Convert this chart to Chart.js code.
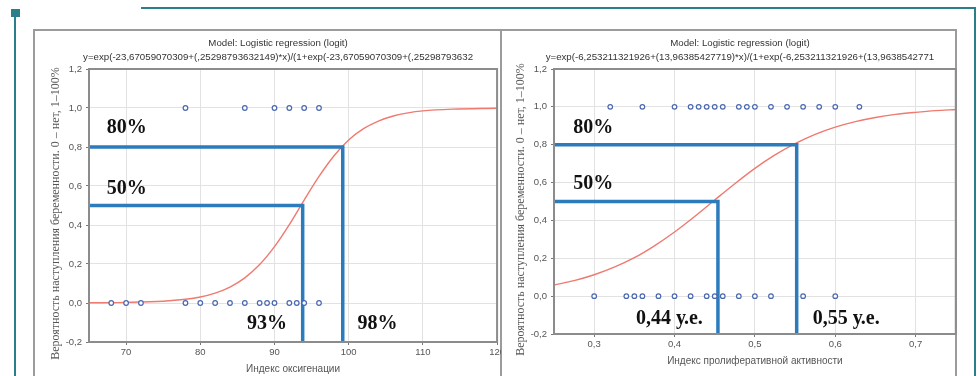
<!DOCTYPE html>
<html>
<head>
<meta charset="utf-8">
<script src="https://cdn.jsdelivr.net/npm/chart.js@4"></script>
<style>
    body { margin: 0; background: #fff; }
    #page { position: relative; width: 980px; height: 376px; overflow: hidden; background: #fff; }
    .deco { position: absolute; background: #2b7f8b; }
    .frame { position: absolute; border: 2px solid #9b9b9b; box-sizing: border-box; }
    .holder { position: absolute; overflow: hidden; }
    canvas { display: block; }
</style>
</head>
<body>
<div id="page">
    <div class="deco" style="left:11px; top:9px; width:9px; height:8px;"></div>
    <div class="deco" style="left:14px; top:16px; width:2px; height:360px;"></div>
    <div class="deco" style="left:141px; top:7px; width:835px; height:2px;"></div>
    <div class="deco" style="left:974px; top:7px; width:2px; height:369px;"></div>
    <div class="frame" style="left:33px; top:29px; width:469px; height:400px;"></div>
    <div class="frame" style="left:500px; top:29px; width:457px; height:400px;"></div>
    <div class="holder" style="left:35px; top:31px; width:466px; height:345px;">
        <canvas id="oxy-chart" width="472" height="345"></canvas>
    </div>
    <div class="holder" style="left:502px; top:31px; width:455px; height:345px;">
        <canvas id="prolif-chart" width="459" height="345"></canvas>
    </div>
</div>
<script>
// Shared y axis ticks (probability)
const probTicks = [-0.2, 0, 0.2, 0.4, 0.6, 0.8, 1.0, 1.2];

// Left panel: oxygenation index
const oxyTicks = [70, 80, 90, 100, 110, 120];
const oxyPregnant = [78, 86, 90, 92, 94, 96];               // y = 1
const oxyNotPregnant = [68, 70, 72, 78, 80, 82, 84, 86, 88, 89, 90, 92, 93, 94, 96]; // y = 0
const oxyCurveX = [65, 70, 75, 78, 80, 82, 84, 86, 88, 90, 92, 94, 96, 98, 100, 102, 104, 106, 108, 110, 114, 120];
const oxyCurveY = [0.001, 0.003, 0.009, 0.019, 0.031, 0.051, 0.082, 0.129, 0.197, 0.289, 0.402, 0.528, 0.649, 0.754, 0.836, 0.894, 0.933, 0.959, 0.975, 0.985, 0.994, 0.999];
const oxyGuide50 = [[65, 0.5], [93.8, 0.5], [93.8, -0.2]];
const oxyGuide80 = [[65, 0.8], [99.2, 0.8], [99.2, -0.2]];
const oxyNotes = ['80%', '50%', '93%', '98%'];
const oxyNoteX = [67.4, 67.4, 86.3, 101.2];
const oxyNoteY = [0.90, 0.585, -0.108, -0.108];

// Right panel: proliferative activity index
const prolTicks = [0.3, 0.4, 0.5, 0.6, 0.7];
const prolPregnant = [0.32, 0.36, 0.40, 0.42, 0.43, 0.44, 0.45, 0.46, 0.48, 0.49, 0.50, 0.52, 0.54, 0.56, 0.58, 0.60, 0.63];
const prolNotPregnant = [0.30, 0.34, 0.35, 0.36, 0.38, 0.40, 0.42, 0.44, 0.45, 0.46, 0.48, 0.50, 0.52, 0.56, 0.60];
const prolCurveX = [0.25, 0.275, 0.30, 0.325, 0.35, 0.375, 0.40, 0.425, 0.45, 0.475, 0.50, 0.525, 0.55, 0.575, 0.60, 0.625, 0.65, 0.675, 0.70, 0.725, 0.75];
const prolCurveY = [0.059, 0.082, 0.113, 0.153, 0.203, 0.266, 0.339, 0.421, 0.508, 0.594, 0.675, 0.746, 0.806, 0.855, 0.893, 0.922, 0.944, 0.960, 0.971, 0.980, 0.986];
const prolGuide50 = [[0.25, 0.5], [0.454, 0.5], [0.454, -0.2]];
const prolGuide80 = [[0.25, 0.8], [0.552, 0.8], [0.552, -0.2]];
const prolNotes = ['80%', '50%', '0,44 у.е.', '0,55 у.е.'];
const prolNoteX = [0.274, 0.274, 0.352, 0.572];
const prolNoteY = [0.89, 0.595, -0.121, -0.121];

const yTitle = 'Вероятность наступления беременности. 0 – нет, 1–100%';

function commaNum(v, digits) {
    if (Math.abs(v) < 1e-9) v = 0;
    return v.toFixed(digits).replace('.', ',');
}

// Frame, titles, axis titles and the bold notes
const panelDecor = {
    id: 'panelDecor',
    afterDatasetsDraw(chart, args, opts) {
        const { ctx, scales: { x, y } } = chart;
        ctx.save();
        ctx.fillStyle = '#111';
        ctx.font = 'bold 20px "Liberation Serif", "Times New Roman", serif';
        ctx.textAlign = 'left';
        ctx.textBaseline = 'middle';
        opts.notes.forEach((txt, i) => {
            ctx.fillText(txt, x.getPixelForValue(opts.noteX[i]), y.getPixelForValue(opts.noteY[i]));
        });
        ctx.restore();
    },
    afterDraw(chart, args, opts) {
        const { ctx, chartArea: a } = chart;
        ctx.save();
        ctx.strokeStyle = '#8c8c8c';
        ctx.lineWidth = 2;
        ctx.strokeRect(a.left, a.top, a.right - a.left, a.bottom - a.top);

        const cx = (a.left + a.right) / 2 - 15;
        ctx.fillStyle = '#333';
        ctx.font = '9.7px "Liberation Sans", Arial, sans-serif';
        ctx.textAlign = 'center';
        ctx.textBaseline = 'middle';
        ctx.fillText('Model: Logistic regression (logit)', cx, a.top - 26);
        ctx.fillText(opts.formula, cx, a.top - 12);

        ctx.fillStyle = '#555';
        ctx.font = '10px "Liberation Sans", Arial, sans-serif';
        ctx.fillText(opts.xTitle, (a.left + a.right) / 2, a.bottom + 27.5);

        ctx.translate(a.left - 33, (a.top + a.bottom) / 2 + 8);
        ctx.rotate(-Math.PI / 2);
        ctx.font = '12px "Liberation Serif", "Times New Roman", serif';
        ctx.fillStyle = '#555';
        ctx.fillText(yTitle, 0, 0);
        ctx.restore();
    }
};

function toPoints(xs, ys) {
    return xs.map((v, i) => ({ x: v, y: Array.isArray(ys) ? ys[i] : ys }));
}

function pairsToPoints(pairs) {
    return pairs.map(p => ({ x: p[0], y: p[1] }));
}

function buildPanel(canvasId, p) {
    const dotStyle = {
        type: 'scatter',
        pointRadius: 2.3,
        pointBorderWidth: 1.2,
        pointBorderColor: '#4a68b0',
        pointBackgroundColor: '#fff',
        order: 0
    };
    const guideStyle = {
        type: 'scatter',
        showLine: true,
        borderColor: '#2b7bbd',
        borderWidth: 3.5,
        pointRadius: 0,
        order: 1
    };
    const tickFont = { family: '"Liberation Sans", Arial, sans-serif', size: 9.5 };
    return new Chart(document.getElementById(canvasId), {
        type: 'scatter',
        data: {
            datasets: [
                Object.assign({ data: toPoints(p.pos, 1) }, dotStyle),
                Object.assign({ data: toPoints(p.neg, 0) }, dotStyle),
                Object.assign({ data: pairsToPoints(p.guide50) }, guideStyle),
                Object.assign({ data: pairsToPoints(p.guide80) }, guideStyle),
                {
                    type: 'scatter',
                    showLine: true,
                    data: toPoints(p.curveX, p.curveY),
                    borderColor: '#ee7a70',
                    borderWidth: 1.4,
                    pointRadius: 0,
                    cubicInterpolationMode: 'monotone',
                    order: 2
                }
            ]
        },
        options: {
            responsive: false,
            animation: false,
            devicePixelRatio: 1,
            layout: { padding: { top: 38, right: 0, left: 0, bottom: 0 } },
            plugins: {
                legend: { display: false },
                tooltip: { enabled: false },
                panelDecor: {
                    formula: p.formula,
                    xTitle: p.xTitle,
                    notes: p.notes,
                    noteX: p.noteX,
                    noteY: p.noteY
                }
            },
            scales: {
                x: {
                    type: 'linear',
                    min: p.xMin,
                    max: p.xMax,
                    afterBuildTicks: s => { s.ticks = p.xTicks.map(v => ({ value: v })); },
                    afterFit: s => { s.height = p.xAxisHeight; },
                    border: { display: false },
                    grid: { color: '#e2e2e2', tickColor: '#777', tickLength: 3 },
                    ticks: {
                        padding: 2,
                        color: '#555',
                        font: tickFont,
                        callback: v => commaNum(v, p.xDigits)
                    }
                },
                y: {
                    min: -0.2,
                    max: 1.2,
                    afterBuildTicks: s => { s.ticks = probTicks.map(v => ({ value: v })); },
                    afterFit: s => { s.width = p.yAxisWidth; },
                    border: { display: false },
                    grid: { color: '#e2e2e2', tickColor: '#777', tickLength: 3 },
                    ticks: {
                        padding: 4,
                        color: '#555',
                        font: tickFont,
                        callback: v => commaNum(v, 1)
                    }
                }
            }
        },
        plugins: [panelDecor]
    });
}

buildPanel('oxy-chart', {
    pos: oxyPregnant, neg: oxyNotPregnant,
    curveX: oxyCurveX, curveY: oxyCurveY,
    guide50: oxyGuide50, guide80: oxyGuide80,
    notes: oxyNotes, noteX: oxyNoteX, noteY: oxyNoteY,
    xMin: 65, xMax: 120, xTicks: oxyTicks, xDigits: 0,
    formula: 'y=exp(-23,67059070309+(,25298793632149)*x)/(1+exp(-23,67059070309+(,25298793632',
    xTitle: 'Индекс оксигенации',
    yAxisWidth: 54, xAxisHeight: 34
});

buildPanel('prolif-chart', {
    pos: prolPregnant, neg: prolNotPregnant,
    curveX: prolCurveX, curveY: prolCurveY,
    guide50: prolGuide50, guide80: prolGuide80,
    notes: prolNotes, noteX: prolNoteX, noteY: prolNoteY,
    xMin: 0.25, xMax: 0.75, xTicks: prolTicks, xDigits: 1,
    formula: 'y=exp(-6,253211321926+(13,96385427719)*x)/(1+exp(-6,253211321926+(13,9638542771',
    xTitle: 'Индекс пролиферативной активности',
    yAxisWidth: 52, xAxisHeight: 42
});
</script>
</body>
</html>
